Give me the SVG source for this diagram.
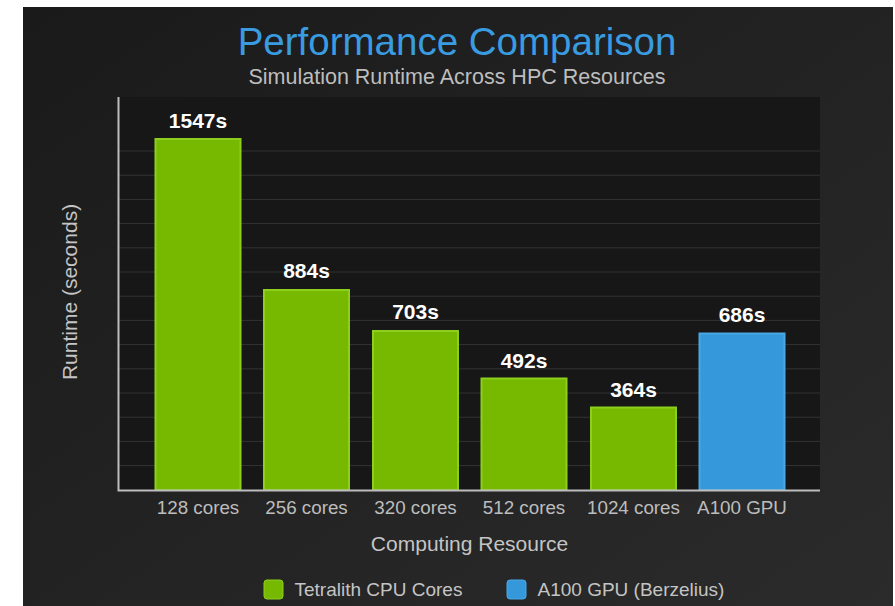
<svg xmlns="http://www.w3.org/2000/svg" width="895" height="606" viewBox="0 0 895 606">
  <defs>
    <linearGradient id="bg" x1="0" y1="0" x2="1" y2="1">
      <stop offset="0" stop-color="#1a1a1a"/>
      <stop offset="1" stop-color="#2b2b2b"/>
    </linearGradient>
    <style>
      text { font-family: "Liberation Sans", Arial, sans-serif; }
      .title { font-size: 38.5px; fill: #3a9ce0; text-anchor: middle; }
      .sub { font-size: 21.5px; fill: #bdbdbd; text-anchor: middle; }
      .axt { font-size: 21px; fill: #c4c4c4; text-anchor: middle; }
      .cat { font-size: 18.8px; fill: #bdbdbd; text-anchor: middle; }
      .val { font-size: 21px; font-weight: bold; fill: #ffffff; text-anchor: middle; }
      .leg { font-size: 19px; fill: #c4c4c4; }
      .grid { stroke: #333333; stroke-width: 1; }
      .axis { stroke: #bdbdbd; stroke-width: 2; fill: none; }
      .cpu { fill: #76b900; stroke: #8ccf1c; stroke-width: 2; }
      .gpu { fill: #3498db; stroke: #4aa6e4; stroke-width: 2; }
    </style>
  </defs>
  <rect x="0" y="0" width="895" height="606" fill="#ffffff"/>
  <rect x="23" y="7" width="870" height="599" fill="url(#bg)"/>

  <text class="title" x="457" y="55">Performance Comparison</text>
  <text class="sub" x="457" y="84">Simulation Runtime Across HPC Resources</text>

  <rect x="118" y="97" width="702" height="393" fill="#171717"/>
  <g id="grid">
    <line class="grid" x1="119" y1="151" x2="820" y2="151"/>
    <line class="grid" x1="119" y1="175.2" x2="820" y2="175.2"/>
    <line class="grid" x1="119" y1="199.4" x2="820" y2="199.4"/>
    <line class="grid" x1="119" y1="223.6" x2="820" y2="223.6"/>
    <line class="grid" x1="119" y1="247.8" x2="820" y2="247.8"/>
    <line class="grid" x1="119" y1="272" x2="820" y2="272"/>
    <line class="grid" x1="119" y1="296.2" x2="820" y2="296.2"/>
    <line class="grid" x1="119" y1="320.4" x2="820" y2="320.4"/>
    <line class="grid" x1="119" y1="344.6" x2="820" y2="344.6"/>
    <line class="grid" x1="119" y1="368.8" x2="820" y2="368.8"/>
    <line class="grid" x1="119" y1="393" x2="820" y2="393"/>
    <line class="grid" x1="119" y1="417.2" x2="820" y2="417.2"/>
    <line class="grid" x1="119" y1="441.4" x2="820" y2="441.4"/>
    <line class="grid" x1="119" y1="465.6" x2="820" y2="465.6"/>
  </g>

  <g id="bar-128">
    <rect class="cpu" x="155.5" y="139" width="85" height="351"/>
    <text class="val" x="198" y="128">1547s</text>
    <text class="cat" x="198" y="514">128 cores</text>
  </g>
  <g id="bar-256">
    <rect class="cpu" x="264" y="290" width="85" height="200"/>
    <text class="val" x="306.5" y="278">884s</text>
    <text class="cat" x="306.5" y="514">256 cores</text>
  </g>
  <g id="bar-320">
    <rect class="cpu" x="373" y="331" width="85" height="159"/>
    <text class="val" x="415.5" y="319">703s</text>
    <text class="cat" x="415.5" y="514">320 cores</text>
  </g>
  <g id="bar-512">
    <rect class="cpu" x="481.5" y="378.5" width="85" height="111.5"/>
    <text class="val" x="524" y="368">492s</text>
    <text class="cat" x="524" y="514">512 cores</text>
  </g>
  <g id="bar-1024">
    <rect class="cpu" x="591" y="407.5" width="85" height="82.5"/>
    <text class="val" x="633.5" y="397">364s</text>
    <text class="cat" x="633.5" y="514">1024 cores</text>
  </g>
  <g id="bar-a100">
    <rect class="gpu" x="699.5" y="333.5" width="85" height="156.5"/>
    <text class="val" x="742" y="322">686s</text>
    <text class="cat" x="742" y="514">A100 GPU</text>
  </g>

  <g id="axes">
    <polyline class="axis" points="118.5,97 118.5,490.5 820,490.5"/>
  </g>

  <text class="axt" x="469.5" y="551">Computing Resource</text>
  <text class="axt" transform="translate(77 292) rotate(-90)" x="0" y="0">Runtime (seconds)</text>

  <g id="legend">
    <rect x="264" y="580" width="19" height="19" rx="3" fill="#76b900" stroke="#8ccf1c" stroke-width="1"/>
    <text class="leg" x="294.5" y="596">Tetralith CPU Cores</text>
    <rect x="507" y="580" width="19" height="19" rx="3" fill="#3498db" stroke="#4aa6e4" stroke-width="1"/>
    <text class="leg" x="537.5" y="596">A100 GPU (Berzelius)</text>
  </g>
</svg>
